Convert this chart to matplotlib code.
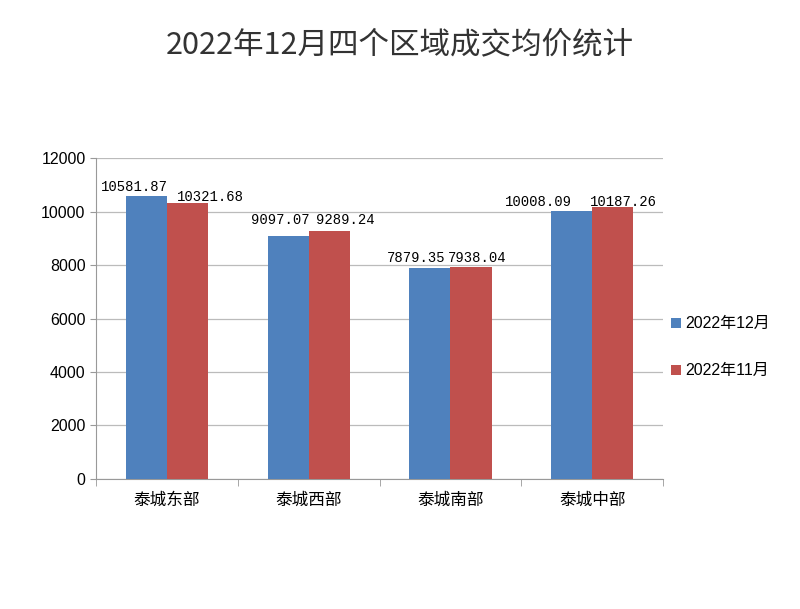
import matplotlib.pyplot as plt
import numpy as np

plt.rcParams['font.family'] = ['Noto Sans CJK SC', 'DejaVu Sans']

categories = ['泰城东部', '泰城西部', '泰城南部', '泰城中部']
dec_2022 = [10581.87, 9097.07, 7879.35, 10008.09]
nov_2022 = [10321.68, 9289.24, 7938.04, 10187.26]
series_names = ['2022年12月', '2022年11月']

# label nudges in pixels (dx, dy) relative to the bar top, as placed in the source chart
dec_nudge = [(-11.5, 9), (-8, 15.5), (-14, 10), (-33.5, 9)]
nov_nudge = [(23, 6), (16.5, 10.5), (6.5, 8.5), (10.5, 4.5)]

fig = plt.figure(figsize=(8, 6.09), dpi=100)
ax = fig.add_axes([0.12, 0.2135, 0.709, 0.527])

x = np.arange(len(categories))
w = 0.29
b1 = ax.bar(x - w / 2, dec_2022, w, color='#4F81BD', label=series_names[0], zorder=3)
b2 = ax.bar(x + w / 2, nov_2022, w, color='#C0504D', label=series_names[1], zorder=3)

for bars, vals, nudges in ((b1, dec_2022, dec_nudge), (b2, nov_2022, nov_nudge)):
    for bar, v, (dx, dy) in zip(bars, vals, nudges):
        ax.annotate(f"{v:.2f}", (bar.get_x() + bar.get_width() / 2, v),
                    xytext=(dx, dy), textcoords='offset pixels',
                    ha='center', va='center', fontsize=10, zorder=4,
                    family=['Liberation Mono', 'DejaVu Sans Mono'])

ax.set_xlim(-0.5, len(categories) - 0.5)
ax.set_ylim(0, 12000)
ax.set_yticks(range(0, 12001, 2000))
ax.set_yticklabels([str(t) for t in range(0, 12001, 2000)],
                   family=['Liberation Sans', 'DejaVu Sans'], fontsize=11.5)
ax.set_xticks(x)
ax.set_xticklabels(categories, fontsize=12)
ax.set_xticks(np.arange(-0.5, len(categories)), minor=True)
ax.tick_params(axis='x', which='major', length=0, pad=9)
ax.tick_params(axis='x', which='minor', length=5, color='#999999')
ax.tick_params(axis='y', length=4, color='#999999')
ax.grid(axis='y', color='#BBBBBB', linewidth=0.9, zorder=0)
for s in ('top', 'right'):
    ax.spines[s].set_visible(False)
for s in ('left', 'bottom'):
    ax.spines[s].set_color('#999999')

fig.text(0.5, 0.926, '2022年12月四个区域成交均价统计', ha='center', va='center',
         fontsize=22, color='#333333')

ax.legend(loc='center left', bbox_to_anchor=(1.0, 0.41), frameon=False,
          prop={'family': ['Liberation Sans', 'Noto Sans CJK SC'], 'size': 11.5},
          handlelength=0.6, handleheight=0.6, handletextpad=0.3,
          labelspacing=2.0, borderaxespad=0.1)

fig.savefig('out.png', dpi=100)
